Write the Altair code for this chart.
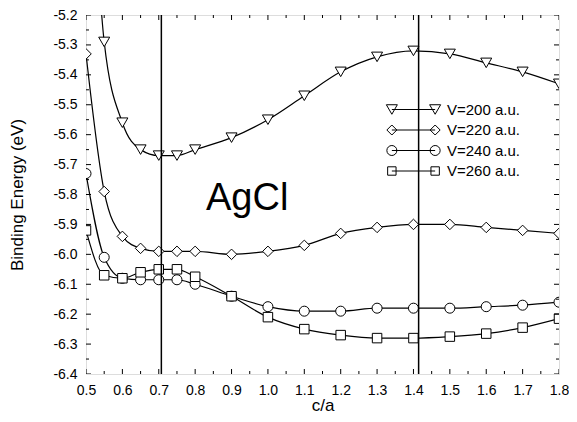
import altair as alt
import pandas as pd

# ---------------- data ----------------
ca = [0.5, 0.55, 0.6, 0.65, 0.7, 0.75, 0.8, 0.9, 1.0, 1.1, 1.2, 1.3, 1.4, 1.5, 1.6, 1.7, 1.8]
v200 = [-4.30, -5.29, -5.56, -5.65, -5.67, -5.67, -5.65, -5.61, -5.55, -5.47, -5.39, -5.34, -5.32, -5.33, -5.36, -5.39, -5.43]
v220 = [-5.33, -5.79, -5.94, -5.98, -5.99, -5.99, -5.99, -6.00, -5.99, -5.97, -5.93, -5.91, -5.90, -5.90, -5.91, -5.92, -5.93]
v240 = [-5.73, -6.01, -6.08, -6.085, -6.085, -6.085, -6.10, -6.14, -6.175, -6.19, -6.19, -6.18, -6.18, -6.18, -6.175, -6.17, -6.16]
v260 = [-5.92, -6.07, -6.08, -6.06, -6.05, -6.05, -6.075, -6.14, -6.21, -6.25, -6.27, -6.28, -6.28, -6.275, -6.265, -6.245, -6.215]

series_names = ["V=200 a.u.", "V=220 a.u.", "V=240 a.u.", "V=260 a.u."]
series_values = [v200, v220, v240, v260]

vlines = [0.7071, 1.4142]          # c/a = 1/sqrt(2) and sqrt(2)

annot_text = ["AgCl"]
annot_x = [0.943]
annot_y = [-5.851]

x_major = [0.5, 0.6, 0.7, 0.8, 0.9, 1.0, 1.1, 1.2, 1.3, 1.4, 1.5, 1.6, 1.7, 1.8]
x_minor = [0.55, 0.65, 0.75, 0.85, 0.95, 1.05, 1.15, 1.25, 1.35, 1.45, 1.55, 1.65, 1.75]
y_major = [-6.4, -6.3, -6.2, -6.1, -6.0, -5.9, -5.8, -5.7, -5.6, -5.5, -5.4, -5.3, -5.2]
y_minor = [-6.35, -6.25, -6.15, -6.05, -5.95, -5.85, -5.75, -5.65, -5.55, -5.45, -5.35, -5.25]

X_DOMAIN = [0.5, 1.8]
Y_DOMAIN = [-6.4, -5.2]

# ---------------- styles ----------------
FONT = "Liberation Sans"
W, H = 473, 359
series_shapes = ["triangle-down", "diamond", "circle", "square"]
series_sizes = [121, 90, 100, 70]


def legend_path(kind, d=21.65):
    parts = [f"M{-d},0L{d},0"]
    for cx in (-d, d):
        if kind == "tri":
            parts.append(f"M{cx-5.5},-4.76L{cx+5.5},-4.76L{cx},4.76Z")
        elif kind == "dia":
            parts.append(f"M{cx-5},0L{cx},-5L{cx+5},0L{cx},5Z")
        elif kind == "cir":
            parts.append(f"M{cx+5},0A5,5,0,1,1,{cx-5},0A5,5,0,1,1,{cx+5},0Z")
        else:
            parts.append(f"M{cx-4.2},-4.2L{cx+4.2},-4.2L{cx+4.2},4.2L{cx-4.2},4.2Z")
    return "".join(parts)


legend_shapes = [legend_path(k) for k in ("tri", "dia", "cir", "sq")]

rows = []
for name, vals in zip(series_names, series_values):
    for x, y in zip(ca, vals):
        rows.append({"ca": x, "E": y, "series": name})
df = pd.DataFrame(rows)

xs = alt.Scale(domain=X_DOMAIN, nice=False, zero=False, padding=0)
ys = alt.Scale(domain=Y_DOMAIN, nice=False, zero=False, padding=0)

HYPHEN = "replace(format(datum.value, '.1f'), '\u2212', '-')"

x_main = alt.Axis(orient="bottom", values=x_major, labelExpr=HYPHEN, ticks=False, tickSize=0,
                  domain=False, grid=False, labelPadding=9, labelFontSize=14, labelFont=FONT,
                  labelColor="black", labelFlush=False, labelOverlap=False,
                  title="c/a", titleFont=FONT, titleFontSize=17, titleFontWeight="normal",
                  titleColor="black", titleX=W / 2, titleY=36, titleBaseline="alphabetic",
                  titleAlign="center")
y_main = alt.Axis(orient="left", values=y_major, labelExpr=HYPHEN, ticks=False, tickSize=0,
                  domain=False, grid=False, labelPadding=9, labelFontSize=14, labelFont=FONT,
                  labelColor="black", labelFlush=False, labelOverlap=False,
                  title="Binding Energy (eV)", titleFont=FONT, titleFontSize=17,
                  titleFontWeight="normal", titleColor="black", titleAngle=270,
                  titleX=-64, titleY=H / 2, titleBaseline="alphabetic", titleAlign="center")

base = alt.Chart(df)

lines = base.mark_line(color="black", strokeWidth=1.2, interpolate="monotone", clip=True).encode(
    x=alt.X("ca:Q", scale=xs, axis=x_main),
    y=alt.Y("E:Q", scale=ys, axis=y_main),
    detail="series:N",
)

points = base.mark_point(filled=True, fill="white", stroke="black", strokeWidth=1,
                         opacity=1, clip=True).encode(
    x=alt.X("ca:Q", scale=xs, axis=None),
    y=alt.Y("E:Q", scale=ys, axis=None),
    shape=alt.Shape("series:N", scale=alt.Scale(domain=series_names, range=series_shapes), legend=None),
    size=alt.Size("series:N", scale=alt.Scale(domain=series_names, range=series_sizes), legend=None),
)

legend_layer = base.mark_point(size=4, opacity=0, filled=False, color="black", strokeWidth=1).encode(
    x=alt.X("ca:Q", scale=xs, axis=None),
    y=alt.Y("E:Q", scale=ys, axis=None),
    shape=alt.Shape("series:N", scale=alt.Scale(domain=series_names, range=legend_shapes),
                    legend=alt.Legend(orient="none", legendX=320, legendY=87, title=None,
                                      symbolSize=4, symbolStrokeColor="black",
                                      symbolStrokeWidth=1, symbolOpacity=1,
                                      labelFont=FONT, labelFontSize=15,
                                      labelColor="black", labelOffset=26, rowPadding=4.5,
                                      labelLimit=200)),
)

rules = alt.Chart(pd.DataFrame({"v": vlines})).mark_rule(color="black", strokeWidth=1.5).encode(
    x=alt.X("v:Q", scale=xs, axis=None),
)

text = alt.Chart(pd.DataFrame({"x": annot_x, "y": annot_y, "t": annot_text})).mark_text(
    font=FONT, fontSize=38, align="center", baseline="alphabetic", color="black"
).encode(
    x=alt.X("x:Q", scale=xs, axis=None),
    y=alt.Y("y:Q", scale=ys, axis=None),
    text="t:N",
)


def x_ticks(values, at, length):
    d = pd.DataFrame({"t": values, "edge": [at] * len(values)})
    return alt.Chart(d).mark_tick(
        orient="vertical", size=2 * length, thickness=1, color="black", opacity=1, clip=True
    ).encode(
        x=alt.X("t:Q", scale=xs, axis=None),
        y=alt.Y("edge:Q", scale=ys, axis=None),
    )


def y_ticks(values, at, length):
    d = pd.DataFrame({"t": values, "edge": [at] * len(values)})
    return alt.Chart(d).mark_tick(
        orient="horizontal", size=2 * length, thickness=1, color="black", opacity=1, clip=True
    ).encode(
        y=alt.Y("t:Q", scale=ys, axis=None),
        x=alt.X("edge:Q", scale=xs, axis=None),
    )


tick_layers = [
    x_ticks(x_major, Y_DOMAIN[0], 5), x_ticks(x_minor, Y_DOMAIN[0], 3),
    x_ticks(x_major, Y_DOMAIN[1], 5), x_ticks(x_minor, Y_DOMAIN[1], 3),
    y_ticks(y_major, X_DOMAIN[0], 5), y_ticks(y_minor, X_DOMAIN[0], 3),
    y_ticks(y_major, X_DOMAIN[1], 5), y_ticks(y_minor, X_DOMAIN[1], 3),
]

chart = alt.layer(lines, points, legend_layer, rules, text, *tick_layers).resolve_scale(
    shape="independent", size="independent"
).resolve_axis(
    x="independent", y="independent"
).properties(
    width=W, height=H,
    padding={"left": 78, "top": 7, "right": 10, "bottom": 40},
    autosize=alt.AutoSizeParams(type="none"),
).configure_view(stroke="black", strokeWidth=2).configure(background="white")

chart.save("out.html", embed_options={"renderer": "svg", "actions": False})
